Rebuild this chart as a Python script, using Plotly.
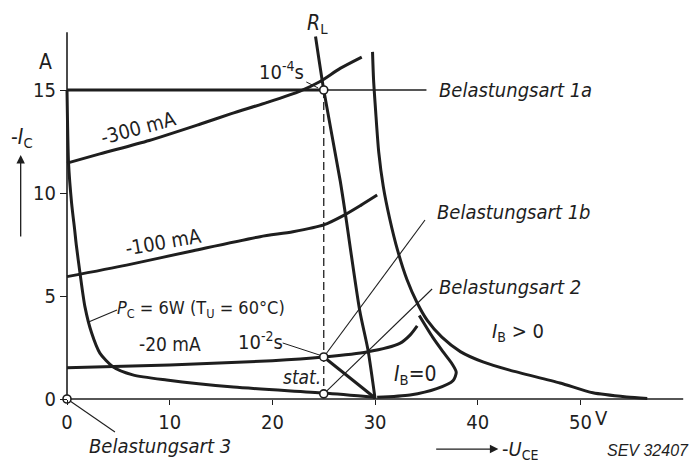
import plotly.graph_objects as go

# ---------------- data ----------------
# base-current characteristics  (U_CE in V, I_C in A)
U_300 = [0, 3.2, 8, 13, 16, 19.5, 22.7, 24.6, 26.6, 28.7]
I_300 = [11.45, 11.9, 12.55, 13.35, 13.85, 14.4, 14.95, 15.4, 16.05, 16.6]

U_100 = [0, 5.8, 12.3, 18.8, 22.0, 25.0, 26.9, 28.6, 30.2]
I_100 = [5.94, 6.5, 7.2, 7.88, 8.12, 8.45, 8.9, 9.4, 9.9]

U_20 = [0, 10, 20, 25, 29.2, 32.4, 33.4, 34.1]
I_20 = [1.52, 1.65, 1.86, 2.04, 2.28, 2.7, 3.1, 3.55]

# power hyperbola P_C = 6 W
U_PC = [0, 0.05, 0.15, 0.45, 0.75, 0.9, 1.27, 1.75, 2.4, 3.2, 4.5, 6.4, 9.7, 16.2, 25, 30]
I_PC = [15, 13.5, 11.45, 9.5, 8.2, 7.5, 6.1, 4.47, 3.2, 2.23, 1.55, 1.17, 0.92, 0.58, 0.29, 0.08]

# load line R_L
U_RL = [24.2, 25, 26.6, 27.1, 28.5, 29.3, 30]
I_RL = [17.6, 15, 10.6, 9.0, 4.3, 2.4, 0]

# breakdown boundary (I_B > 0)
U_BD = [29.75, 29.85, 30.05, 30.35, 30.8, 31.4, 32.2, 33.1, 34.1, 35.1, 36.5, 38.3, 40.5, 43.1, 48, 51.2, 54.5, 56.5]
I_BD = [16.85, 15.5, 14.0, 12.0, 10.3, 8.8, 7.2, 5.8, 4.66, 3.8, 3.0, 2.3, 1.8, 1.4, 0.78, 0.3, 0.1, 0.03]

# I_B = 0 loop
U_IB0 = [34.3, 35.6, 36.6, 37.5, 37.9, 37.6, 36.0, 33.4, 30.2]
I_IB0 = [4.05, 3.0, 2.3, 1.7, 1.3, 0.9, 0.5, 0.19, 0.08]

# switching path 10^-2 s -> R_L foot
U_SW = [25, 30]
I_SW = [2.04, 0.05]

# Belastungsart 1a line (15 A)
U_1A_THICK = [0, 25]
U_1A_THIN = [25, 35]
I_1A = [15, 15]

# dashed vertical at U = 25 V
U_DASH = [25, 25]
I_DASH = [15, 0.25]

# operating points
U_PTS = [25, 25, 25, 0]
I_PTS = [15, 2.04, 0.25, 0]

# leader lines
U_L1B = [34.86, 25]
I_L1B = [8.69, 2.04]
U_L2 = [35.55, 25]
I_L2 = [5.34, 0.25]
U_L3 = [0.3, 4.67]
I_L3 = [-0.1, -1.6]
U_L4S = [23.3, 24.45]
I_L4S = [15.39, 15.1]
U_L2S = [21.0, 24.8]
I_L2S = [2.72, 2.1]
U_LPC = [4.87, 2.1]
I_LPC = [4.32, 3.74]

# axes
AX_U = [0, 60]
AX_I = [0, 17.8]

X_TICKS = [0, 10, 20, 30, 40, 50]
X_TICKTEXT = ["0", "10", "20", "30", "40", "50"]
Y_TICKS = [0, 5, 10, 15]
Y_TICKTEXT = ["0", "5", "10", "15"]

# ---------------- figure ----------------
INK = "#1e1e1e"
NARROW = "Liberation Sans Narrow, DejaVu Sans Condensed, Arial Narrow, sans-serif"

X_RANGE = [-6.524, 61.149]
Y_RANGE = [-3.204, 19.369]

fig = go.Figure()


def add_line(u, i, width, dash=None, spline=True):
    fig.add_trace(go.Scatter(
        x=u, y=i, mode="lines",
        line=dict(color=INK, width=width, dash=dash,
                  shape="spline" if spline else "linear", smoothing=0.7),
        hoverinfo="skip", showlegend=False))


# axes lines
add_line(AX_U, [0, 0], 1.6, spline=False)
add_line([0, 0], AX_I, 1.6, spline=False)

# thin helper lines
add_line(U_1A_THIN, I_1A, 1.3, spline=False)
add_line(U_L1B, I_L1B, 1.1, spline=False)
add_line(U_L2, I_L2, 1.1, spline=False)
add_line(U_L3, I_L3, 1.1, spline=False)
add_line(U_L4S, I_L4S, 1.0, spline=False)
add_line(U_L2S, I_L2S, 1.0, spline=False)
add_line(U_LPC, I_LPC, 1.1, spline=False)
add_line(U_DASH, I_DASH, 1.3, dash="8px,4px", spline=False)

# thick characteristic curves
add_line(U_1A_THICK, I_1A, 3.0, spline=False)
add_line(U_300, I_300, 3.0)
add_line(U_100, I_100, 3.0)
add_line(U_20, I_20, 3.0)
add_line(U_PC, I_PC, 3.0)
add_line(U_RL, I_RL, 3.0)
add_line(U_BD, I_BD, 3.0)
add_line(U_IB0, I_IB0, 3.0)
add_line(U_SW, I_SW, 3.0, spline=False)

# operating-point circles
fig.add_trace(go.Scatter(
    x=U_PTS, y=I_PTS, mode="markers", cliponaxis=False,
    marker=dict(symbol="circle", size=8, color="white",
                line=dict(color=INK, width=1.6)),
    hoverinfo="skip", showlegend=False))


def note(text, x, y, size=20, angle=0, xanchor="center", family=NARROW):
    fig.add_annotation(x=x, y=y, xref="x", yref="y", text=text, showarrow=False,
                       textangle=angle, xanchor=xanchor, yanchor="middle",
                       font=dict(family=family, size=size, color=INK))


note("A", -2.1, 16.35, 21)
note("-<i>I</i><sub>C</sub>", -4.4, 12.65, 21)
note("<i>R</i><sub>L</sub>", 24.4, 18.2, 21)
note("10<sup>-4</sup>s", 20.85, 15.9, 20)
note("-300 mA", 6.95, 13.15, 20, angle=-15)
note("-100 mA", 9.4, 7.6, 20, angle=-10)
note("<i>P</i><sub>C</sub> = 6W (T<sub>U</sub> = 60°C)", 13.0, 4.37, 18)
note("-20 mA", 10.0, 2.67, 19)
note("10<sup>-2</sup>s", 18.8, 2.8, 20)
note("<i>stat.</i>", 22.9, 1.08, 19)
note("<i>I</i><sub>B</sub>=0", 33.9, 1.15, 21)
note("<i>I</i><sub>B</sub> > 0", 43.9, 3.25, 20)
note("<i>Belastungsart 1a</i>", 36.0, 15.0, 20, xanchor="left")
note("<i>Belastungsart 1b</i>", 35.8, 9.08, 20, xanchor="left")
note("<i>Belastungsart 2</i>", 36.0, 5.45, 20, xanchor="left")
note("<i>Belastungsart 3</i>", 1.95, -2.28, 20, xanchor="left")
note("V", 52.0, -0.92, 20)
note("-<i>U</i><sub>CE</sub>", 42.2, -2.48, 20, xanchor="left")
note("<i>SEV 32407</i>", 56.6, -2.5, 16, family="Liberation Sans, Arial, sans-serif")

# arrows
fig.add_annotation(x=-4.51, y=11.84, ax=-4.51, ay=7.82, xref="x", yref="y",
                   axref="x", ayref="y", text="", showarrow=True,
                   arrowhead=2, arrowsize=1.3, arrowwidth=1.3, arrowcolor=INK, standoff=0)
fig.add_annotation(x=42.0, y=-2.43, ax=35.8, ay=-2.43, xref="x", yref="y",
                   axref="x", ayref="y", text="", showarrow=True,
                   arrowhead=2, arrowsize=1.3, arrowwidth=1.3, arrowcolor=INK, standoff=0)

fig.update_layout(
    width=695, height=465,
    margin=dict(l=0, r=0, t=0, b=0),
    paper_bgcolor="white", plot_bgcolor="white",
    showlegend=False,
    xaxis=dict(range=X_RANGE, tickvals=X_TICKS, ticktext=X_TICKTEXT,
               ticks="outside", ticklen=5, tickwidth=1.4, tickcolor=INK,
               showgrid=False, zeroline=False, showline=False,
               anchor="free", position=(0 - Y_RANGE[0]) / (Y_RANGE[1] - Y_RANGE[0]),
               tickfont=dict(family=NARROW, size=20, color=INK)),
    yaxis=dict(range=Y_RANGE, tickvals=Y_TICKS, ticktext=Y_TICKTEXT,
               ticks="outside", ticklen=7, tickwidth=1.4, tickcolor=INK,
               showgrid=False, zeroline=False, showline=False,
               anchor="free", position=(0 - X_RANGE[0]) / (X_RANGE[1] - X_RANGE[0]),
               tickfont=dict(family=NARROW, size=20, color=INK)),
)

fig.write_html("out.html")
